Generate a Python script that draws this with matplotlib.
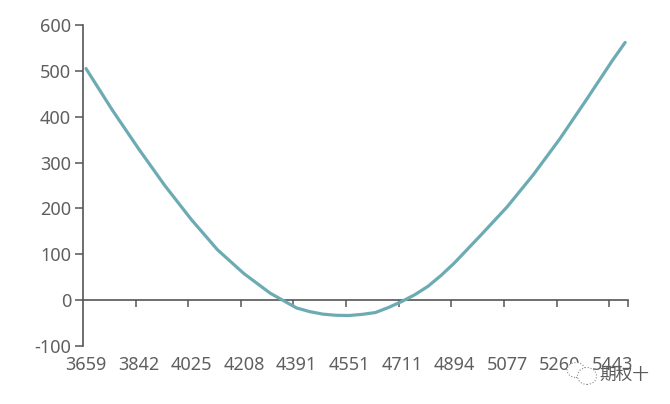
import matplotlib
matplotlib.use('Agg')
import matplotlib.pyplot as plt
from matplotlib.patches import Ellipse
import numpy as np

plt.rcParams['font.family'] = ['Noto Sans', 'DejaVu Sans']
plt.rcParams['axes.unicode_minus'] = False

# strike labels along the axis (category axis, so the steps are not all equal)
tick_strikes = [3659, 3842, 4025, 4208, 4391, 4551, 4711, 4894, 5077, 5260, 5443]
last_band = 5626  # one more step, only to place the final point

y_ticks = [-100, 0, 100, 200, 300, 400, 500, 600]

# values
strikes = [3659, 3750, 3842, 3933, 4025, 4116, 4208, 4300, 4391, 4431, 4471, 4511, 4551,
           4591, 4631, 4671, 4711, 4757, 4802, 4848, 4894, 4985, 5077, 5168, 5260, 5351,
           5443, 5488]
pnl = [505, 415, 330, 250, 176, 110, 58, 15, -17, -25, -30.5, -33, -33.5,
       -31, -27, -16, -3, 12, 30, 54, 81, 141, 203, 273, 351, 435,
       522, 562]

grey = '#555555'
text_grey = '#5f5f5f'
line_col = '#6dabb3'

fig = plt.figure(figsize=(6.7, 4.04), dpi=100)
W, H = 670, 404
ax = fig.add_axes([83 / W, 1 - 346 / H, (628 - 83) / W, (346 - 25) / H])

# strikes -> category position
cat_pos = np.arange(len(tick_strikes) + 1)
x = np.interp(strikes, tick_strikes + [last_band], cat_pos)

band = 0.057
ax.plot(x, pnl, color=line_col, lw=2.3, solid_capstyle='round', solid_joinstyle='round', zorder=3)
ax.set_xlim(-band, 10.3)
ax.set_ylim(-100, 600)

for s in ['top', 'right', 'bottom']:
    ax.spines[s].set_visible(False)
ax.spines['left'].set_color(grey)
ax.spines['left'].set_linewidth(1.2)

ax.set_yticks(y_ticks)
ax.tick_params(axis='y', length=5.5, width=1.1, color=grey, labelcolor=text_grey,
               labelsize=13, pad=3)

# labels sit at the bottom, the axis line itself crosses at zero
ax.set_xticks(cat_pos[:-1])
ax.set_xticklabels([str(s) for s in tick_strikes])
ax.tick_params(axis='x', length=0, labelcolor=text_grey, labelsize=13, pad=7)
ax.patch.set_alpha(0)

zero_axis = ax.secondary_xaxis(100 / 700)
zero_axis.spines['bottom'].set_color(grey)
zero_axis.spines['bottom'].set_linewidth(1.2)
zero_axis.set_xticks(list(cat_pos[:-1] - band)[1:] + [10.3])
zero_axis.tick_params(axis='x', length=5, width=1.1, color=grey, labelbottom=False)

# watermark
for cx, cy, w, h in [(576, 370, 18, 15), (587, 376, 19, 17)]:
    fig.add_artist(Ellipse((cx / W, 1 - cy / H), w / W, h / H, transform=fig.transFigure,
                           facecolor='white', edgecolor='#8a8a8a', lw=0.8, ls=':', zorder=5))
fig.text(624 / W, 1 - 375 / H, '期权十', fontsize=12, color='#5a5a5a', ha='center', va='center',
         family=['Noto Sans CJK SC', 'DejaVu Sans'], zorder=6)

fig.savefig('out.png', dpi=100)
